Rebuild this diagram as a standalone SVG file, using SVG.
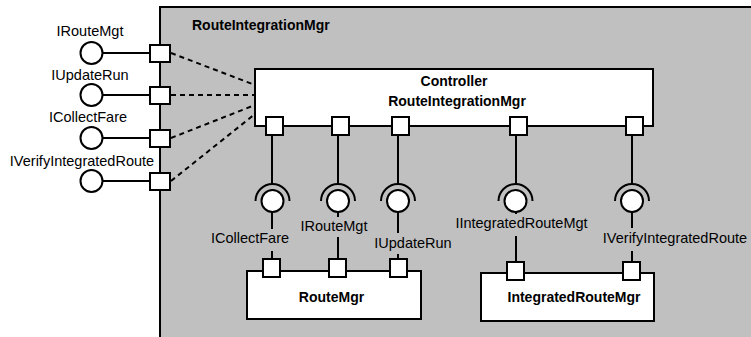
<svg xmlns="http://www.w3.org/2000/svg" width="751" height="337" viewBox="0 0 751 337">
<style>
.bg{fill:#ffffff}
.comp{fill:#c0c0c0;stroke:#000;stroke-width:2}
.box{fill:#fff;stroke:#000;stroke-width:2}
.port{fill:#fff;stroke:#000;stroke-width:2}
.ln{fill:none;stroke:#000;stroke-width:2}
.dash{fill:none;stroke:#000;stroke-width:2;stroke-dasharray:5,4}
.ball{fill:#fff;stroke:#000;stroke-width:2}
.sock{fill:none;stroke:#000;stroke-width:2}
.lbl{font-family:"Liberation Sans",Arial,sans-serif;font-size:14.5px;fill:#000;text-anchor:middle}
.ttl{font-family:"Liberation Sans",Arial,sans-serif;font-size:14px;font-weight:bold;fill:#000}
.lblbg{fill:#c0c0c0}
</style>
<rect class="bg" x="0" y="0" width="751" height="337"/>

<g id="RouteIntegrationMgr">
  <rect class="comp" x="160" y="7" width="600" height="340"/>
  <text class="ttl" x="192" y="30">RouteIntegrationMgr</text>
</g>

<g id="connectors">
  <line class="dash" x1="171" y1="53" x2="255" y2="85"/>
  <line class="dash" x1="171" y1="95" x2="255" y2="95"/>
  <line class="dash" x1="171" y1="138" x2="255" y2="105"/>
  <line class="dash" x1="171" y1="181" x2="255" y2="114"/>
  <line class="ln" x1="103" y1="53" x2="150" y2="53"/>
  <line class="ln" x1="103" y1="95" x2="150" y2="95"/>
  <line class="ln" x1="103" y1="138" x2="150" y2="138"/>
  <line class="ln" x1="103" y1="181" x2="150" y2="181"/>
  <line class="ln" x1="272" y1="136" x2="272" y2="184"/>
  <line class="ln" x1="338" y1="136" x2="338" y2="184"/>
  <line class="ln" x1="398" y1="136" x2="398" y2="184"/>
  <line class="ln" x1="516" y1="136" x2="516" y2="184"/>
  <line class="ln" x1="632" y1="136" x2="632" y2="184"/>
  <line class="ln" x1="272" y1="212" x2="272" y2="259"/>
  <line class="ln" x1="338" y1="212" x2="338" y2="259"/>
  <line class="ln" x1="398" y1="212" x2="398" y2="259"/>
  <line class="ln" x1="516" y1="212" x2="516" y2="262"/>
  <line class="ln" x1="632" y1="212" x2="632" y2="262"/>
</g>

<g id="Controller">
  <rect class="box" x="255" y="69" width="398" height="57"/>
  <text class="ttl" x="454" y="86" text-anchor="middle">Controller</text>
  <text class="ttl" x="457" y="106" text-anchor="middle">RouteIntegrationMgr</text>
  <rect class="port" x="266" y="117" width="17" height="18"/>
  <rect class="port" x="332" y="117" width="17" height="18"/>
  <rect class="port" x="392" y="117" width="17" height="18"/>
  <rect class="port" x="510" y="117" width="17" height="18"/>
  <rect class="port" x="626" y="117" width="17" height="18"/>
</g>

<g id="provided-interfaces">
  <text class="lbl" x="90" y="36">IRouteMgt</text>
  <text class="lbl" x="90" y="80">IUpdateRun</text>
  <text class="lbl" x="88" y="122">ICollectFare</text>
  <text class="lbl" x="82" y="166">IVerifyIntegratedRoute</text>
  <circle class="ball" cx="91.5" cy="53" r="11"/>
  <circle class="ball" cx="91.5" cy="95" r="11"/>
  <circle class="ball" cx="91.5" cy="138" r="11"/>
  <circle class="ball" cx="91.5" cy="181" r="11"/>
  <rect class="port" x="150" y="45" width="20" height="17"/>
  <rect class="port" x="150" y="87" width="20" height="17"/>
  <rect class="port" x="150" y="130" width="20" height="17"/>
  <rect class="port" x="150" y="173" width="20" height="17"/>
</g>

<g id="IF-ICollectFare">
  <path class="sock" d="M255.5 201 A17 17 0 0 1 289.5 201"/>
  <circle class="ball" cx="272.5" cy="201" r="11"/>
  <rect class="lblbg" x="208" y="229" width="84" height="22"/>
  <text class="lbl" x="250" y="243">ICollectFare</text>
</g>
<g id="IF-IRouteMgt">
  <path class="sock" d="M321 201 A17 17 0 0 1 355 201"/>
  <circle class="ball" cx="338" cy="201" r="11"/>
  <rect class="lblbg" x="299" y="217" width="70" height="20"/>
  <text class="lbl" x="334" y="231">IRouteMgt</text>
</g>
<g id="IF-IUpdateRun">
  <path class="sock" d="M381 201 A17 17 0 0 1 415 201"/>
  <circle class="ball" cx="398" cy="201" r="11"/>
  <rect class="lblbg" x="372" y="233" width="82" height="21"/>
  <text class="lbl" x="413" y="248">IUpdateRun</text>
</g>
<g id="IF-IIntegratedRouteMgt">
  <path class="sock" d="M498.5 201 A17 17 0 0 1 532.5 201"/>
  <circle class="ball" cx="515.5" cy="201" r="11"/>
  <rect class="lblbg" x="453" y="214" width="137" height="22"/>
  <text class="lbl" x="521.5" y="228">IIntegratedRouteMgt</text>
</g>
<g id="IF-IVerifyIntegratedRoute">
  <path class="sock" d="M615 201 A17 17 0 0 1 649 201"/>
  <circle class="ball" cx="632" cy="201" r="11"/>
  <rect class="lblbg" x="601" y="228" width="148" height="23"/>
  <text class="lbl" x="675" y="243">IVerifyIntegratedRoute</text>
</g>

<g id="RouteMgr">
  <rect class="box" x="247" y="271" width="174" height="48"/>
  <text class="ttl" x="331.5" y="302" text-anchor="middle">RouteMgr</text>
  <rect class="port" x="263" y="259" width="17" height="18"/>
  <rect class="port" x="329" y="259" width="17" height="18"/>
  <rect class="port" x="390" y="259" width="17" height="18"/>
</g>

<g id="IntegratedRouteMgr">
  <rect class="box" x="481" y="273" width="173" height="48"/>
  <text class="ttl" x="574" y="302" text-anchor="middle">IntegratedRouteMgr</text>
  <rect class="port" x="507" y="262" width="17" height="18"/>
  <rect class="port" x="623" y="262" width="17" height="18"/>
</g>
</svg>
